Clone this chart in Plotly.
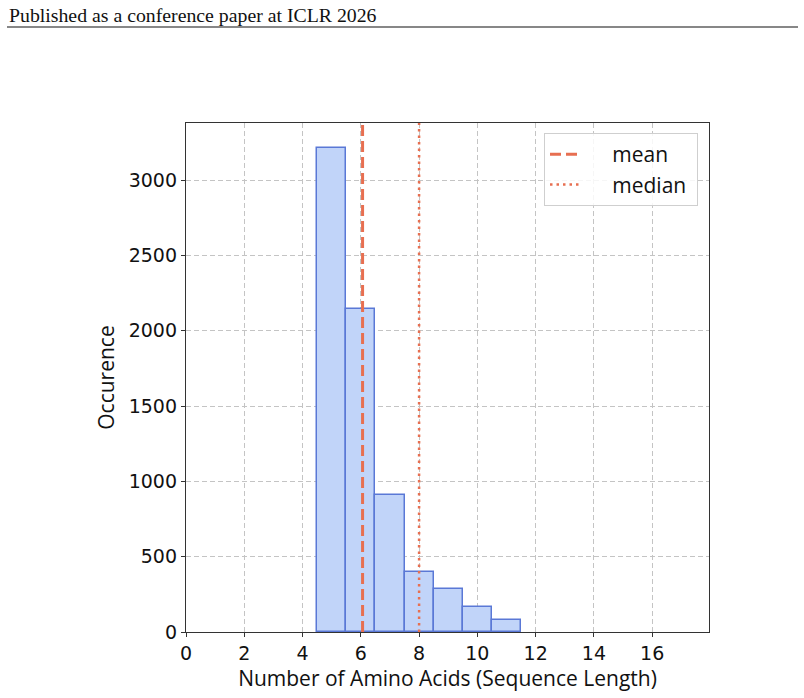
import plotly.graph_objects as go

# Data
lengths = [5, 6, 7, 8, 9, 10, 11]
counts = [3214, 2142, 911, 398, 287, 168, 77]
mean_len = 6.06
median_len = 8.0
x_ticks = [0, 2, 4, 6, 8, 10, 12, 14, 16]
y_ticks = [0, 500, 1000, 1500, 2000, 2500, 3000]

W, H = 804, 698
x0, x1 = 186, 709
y_top, y_bot = 123, 632
ymax = 3380
line_col = "#e76f51"
pad = "\u00a0" * 5

fig = go.Figure()
fig.add_trace(go.Bar(
    x=lengths, y=counts, width=1,
    marker=dict(color="#c1d4f9", line=dict(color="#5a78d6", width=1.5)),
    showlegend=False,
))
fig.add_trace(go.Scatter(
    x=[mean_len, mean_len], y=[0, ymax], mode="lines", name=pad + "mean",
    line=dict(color=line_col, width=3, dash="11px,5px"),
))
fig.add_trace(go.Scatter(
    x=[median_len, median_len], y=[0, ymax], mode="lines", name=pad + "median\u00a0",
    line=dict(color=line_col, width=2.5, dash="2.5px,4px"),
))

tick_font = dict(family="DejaVu Sans", size=19, color="#111")
title_font = dict(family="Open Sans", size=21, color="#111")
grid_dash = "5px,3px"

fig.update_layout(
    width=W, height=H,
    margin=dict(l=0, r=0, t=0, b=0, autoexpand=False),
    paper_bgcolor="white", plot_bgcolor="white",
    bargap=0,
    xaxis=dict(
        domain=[x0 / W, x1 / W], range=[0, 17.95], automargin=False,
        tickvals=x_ticks, ticks="outside", ticklen=4, tickcolor="#333",
        tickfont=tick_font, showline=True, linecolor="#333", linewidth=1.3,
        mirror=True, showgrid=True, gridcolor="#c4c4c4", griddash=grid_dash,
        gridwidth=1, zeroline=False,
        title=dict(text="Number of Amino Acids (Sequence Length)", font=title_font, standoff=6),
    ),
    yaxis=dict(
        domain=[1 - y_bot / H, 1 - y_top / H], range=[0, ymax], automargin=False,
        tickvals=y_ticks, ticks="outside", ticklen=4, tickcolor="#333",
        tickfont=tick_font, showline=True, linecolor="#333", linewidth=1.3,
        mirror=True, showgrid=True, gridcolor="#c4c4c4", griddash=grid_dash,
        gridwidth=1, zeroline=False,
        title=dict(text="Occurence", font=title_font, standoff=8),
    ),
    legend=dict(
        x=544 / W, y=1 - 133 / H, xanchor="left", yanchor="top",
        bgcolor="rgba(255,255,255,0.85)", bordercolor="#cfcfcf", borderwidth=1,
        font=dict(family="Open Sans", size=21, color="#111"),
    ),
    annotations=[dict(
        text="Published as a conference paper at ICLR 2026",
        xref="paper", yref="paper", x=7 / W, y=1 - 15 / H,
        xanchor="left", yanchor="middle", showarrow=False,
        font=dict(family="Liberation Serif", size=19.8, color="#111"),
    )],
    shapes=[dict(
        type="line", xref="paper", yref="paper",
        x0=7 / W, x1=798 / W, y0=1 - 27 / H, y1=1 - 27 / H,
        line=dict(color="#111", width=1.2),
    )],
)

fig.write_html("out.html")
